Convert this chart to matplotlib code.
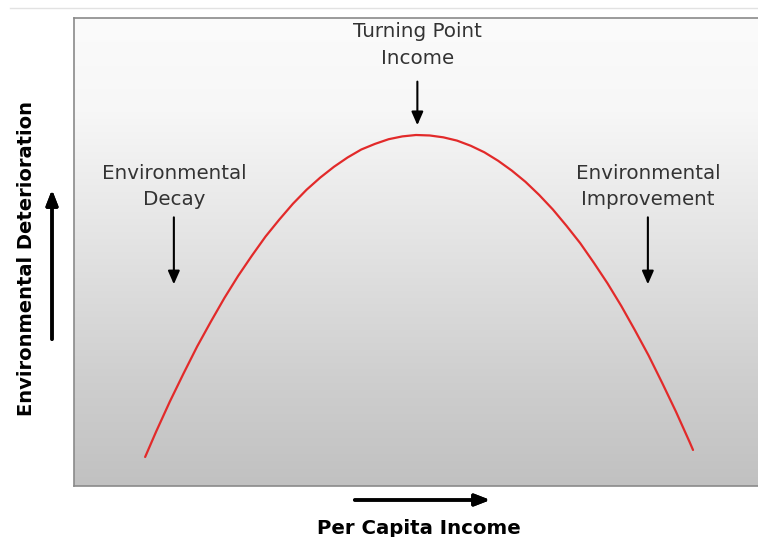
import numpy as np
import matplotlib.pyplot as plt
from matplotlib.lines import Line2D

# Environmental Kuznets curve (arbitrary units 0-100)
income = [10.4, 12, 14, 16, 18, 20, 22, 24, 26, 28, 30, 32, 34, 36, 38, 40, 42, 44, 46, 48, 50,
          52, 54, 56, 58, 60, 62, 64, 66, 68, 70, 72, 74, 76, 78, 80, 82, 84, 86, 88, 90, 90.5]
deterioration = [6.2, 11.6, 18.0, 24.0, 29.8, 35.1, 40.2, 44.9, 49.2, 53.3, 56.9, 60.3, 63.3,
                 65.9, 68.2, 70.2, 71.9, 73.1, 74.1, 74.7, 75.0,
                 74.9, 74.5, 73.8, 72.7, 71.3, 69.5, 67.4, 65.0, 62.2, 59.1, 55.6, 51.9, 47.7,
                 43.3, 38.5, 33.3, 27.9, 22.0, 15.9, 9.4, 7.7]

labels = ["Turning Point\nIncome", "Environmental\nDecay", "Environmental\nImprovement"]
label_x = [50.2, 14.6, 83.9]
label_y = [99.1, 68.9, 68.9]
arrow_tail_y = [87.0, 58.0, 58.0]
arrow_tip_y = [76.5, 42.5, 42.5]

fig = plt.figure(figsize=(7.58, 5.37), dpi=100)
ax = fig.add_axes([74 / 758, 1 - 486 / 537, 1 - 74 / 758, 468 / 537])

# vertical grey gradient background
stops = np.array([[251, 251, 251], [247, 247, 247], [226, 226, 226], [206, 206, 206], [193, 193, 193]]) / 255
pos = np.array([0.0, 0.2, 0.5, 0.78, 1.0])
t = np.linspace(0, 1, 256)
grad = np.stack([np.interp(t, pos, stops[:, c]) for c in range(3)], axis=1)
ax.imshow(grad[:, None, :], extent=[0, 1, 0, 1], transform=ax.transAxes,
          aspect="auto", zorder=0, interpolation="bilinear")

ax.plot(income, deterioration, color="#e22a2a", lw=1.6, zorder=3,
        solid_joinstyle="round", solid_capstyle="round")

for txt, x, y, y0, y1 in zip(labels, label_x, label_y, arrow_tail_y, arrow_tip_y):
    ax.text(x, y, txt, ha="center", va="top", fontsize=14.3, color="#333333",
            linespacing=1.5, zorder=4)
    ax.annotate("", xy=(x, y1), xytext=(x, y0),
                arrowprops=dict(arrowstyle="-|>,head_width=0.35,head_length=0.8",
                                color="black", lw=1.5), zorder=4)

ax.set_xlim(0, 100)
ax.set_ylim(0, 100)
ax.set_xticks([])
ax.set_yticks([])
for s in ["left", "top", "bottom"]:
    ax.spines[s].set_color("#8a8a8a")
    ax.spines[s].set_linewidth(1.2)
ax.spines["right"].set_visible(False)

# axis labels with direction arrows
fig.text(27 / 758, 1 - 259 / 537, "Environmental Deterioration", rotation=90,
         ha="center", va="center", fontsize=14, fontweight="bold", color="black")
fig.text(419 / 758, 1 - 528 / 537, "Per Capita Income", ha="center", va="center",
         fontsize=14.2, fontweight="bold", color="black")
fig.add_artist(plt.annotate("", xy=(52, 537 - 187), xytext=(52, 537 - 342),
                            xycoords="figure pixels", textcoords="figure pixels",
                            arrowprops=dict(arrowstyle="-|>,head_width=0.35,head_length=0.9",
                                            color="black", lw=2.5)))
fig.add_artist(plt.annotate("", xy=(493, 537 - 500), xytext=(352, 537 - 500),
                            xycoords="figure pixels", textcoords="figure pixels",
                            arrowprops=dict(arrowstyle="-|>,head_width=0.35,head_length=0.9",
                                            color="black", lw=2.5)))

# thin rule at the very top
fig.add_artist(Line2D([10 / 758, 1], [1 - 8 / 537, 1 - 8 / 537], color="#e2e2e2", lw=1))

plt.savefig("out.png", dpi=100)
